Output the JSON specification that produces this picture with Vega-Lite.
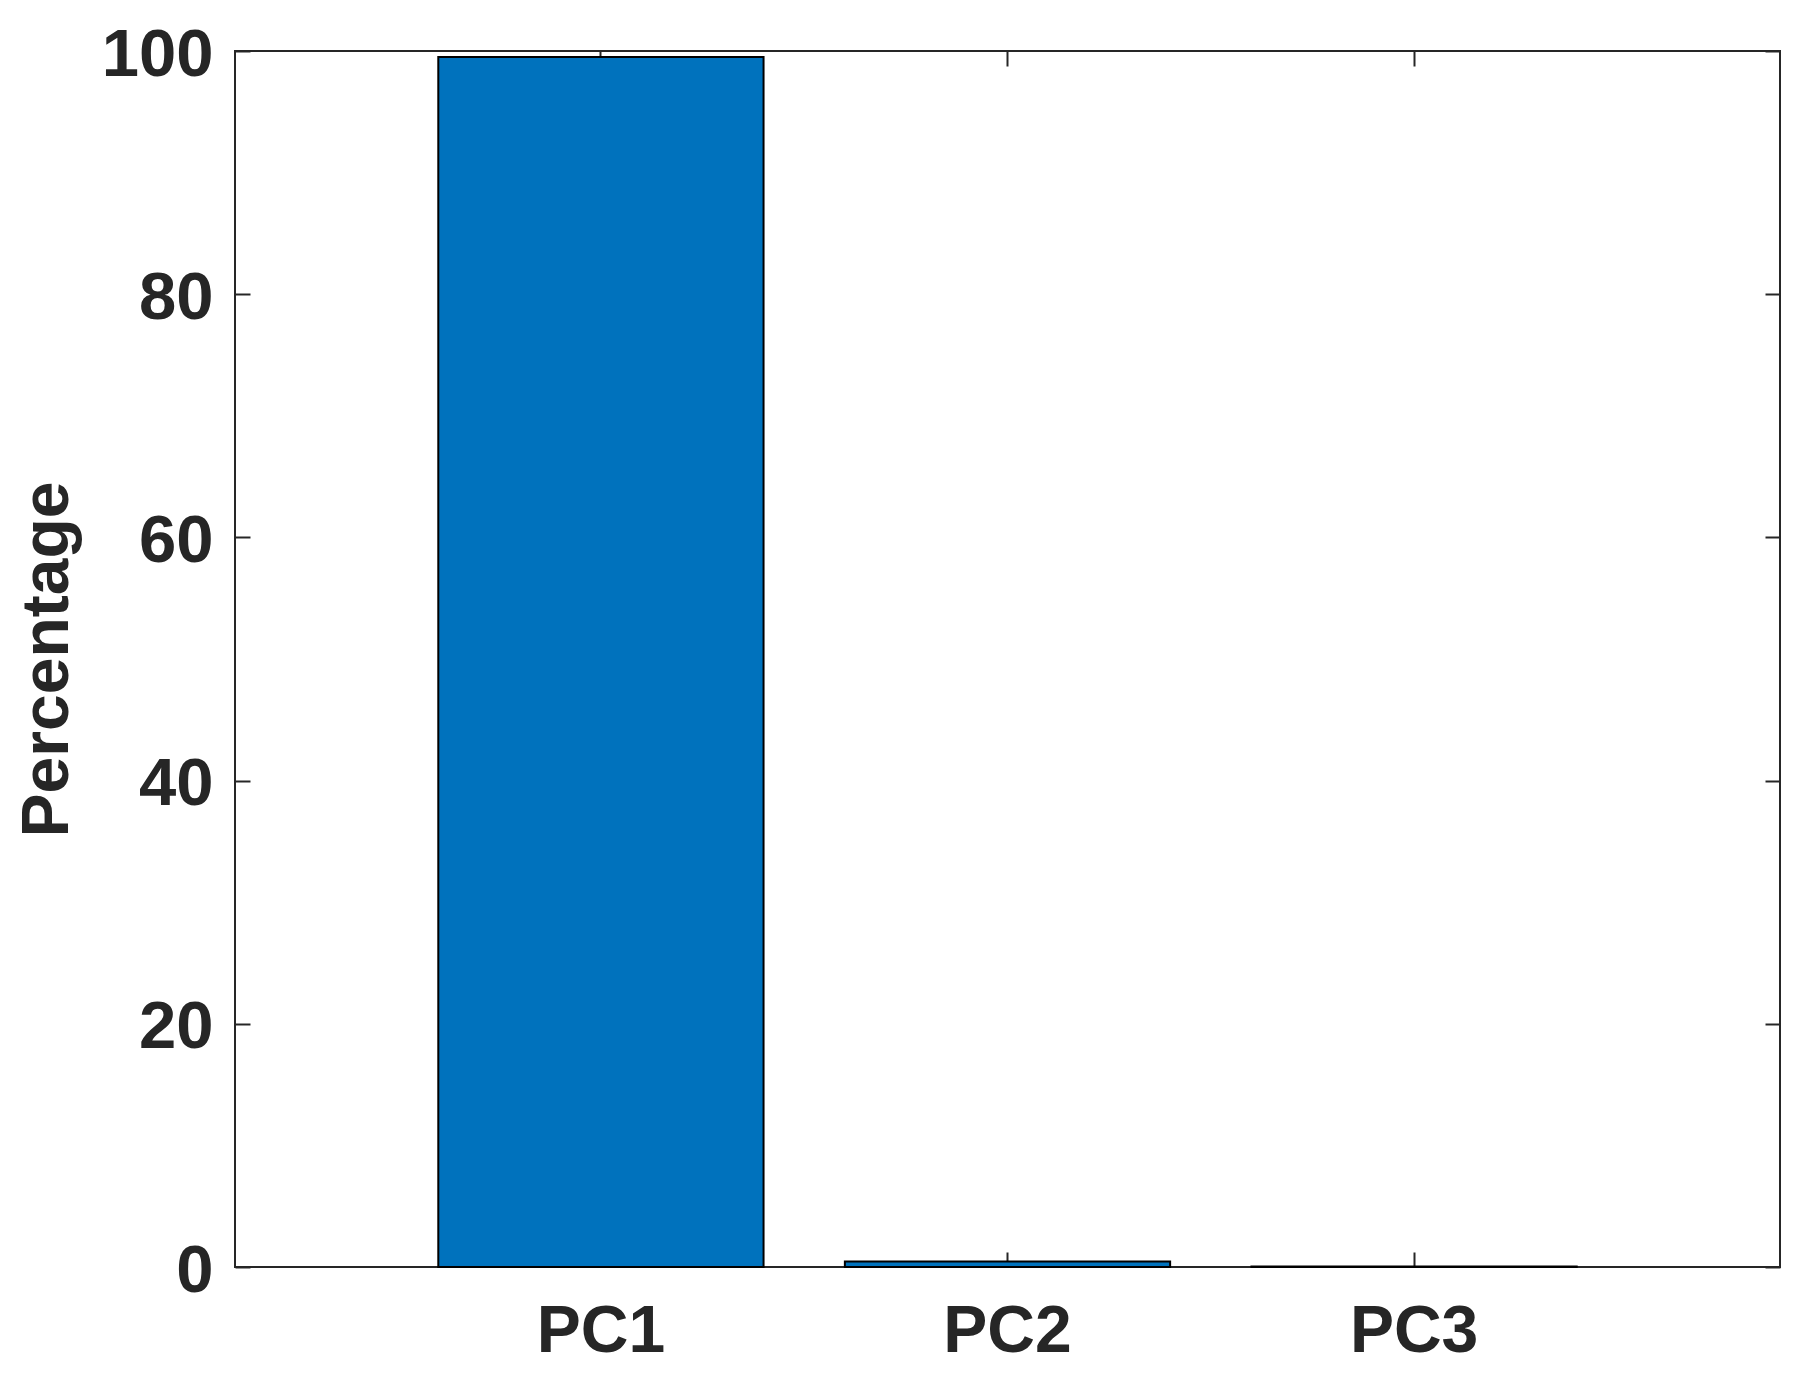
{
  "$schema": "https://vega.github.io/schema/vega-lite/v6.json",
  "autosize": "none",
  "width": 1545,
  "height": 1216,
  "padding": {"left": 235, "top": 51, "right": 34, "bottom": 124},
  "background": "white",
  "data": {"values": [
    {"pc": "PC1", "pct": 99.5},
    {"pc": "PC2", "pct": 0.45},
    {"pc": "PC3", "pct": 0.05}
  ]},
  "config": {
    "view": {"stroke": "#262626", "strokeWidth": 2},
    "font": "Liberation Sans",
    "axis": {
      "labelFont": "Liberation Sans",
      "labelFontWeight": "bold",
      "labelFontSize": 66,
      "labelColor": "#262626",
      "titleFont": "Liberation Sans",
      "titleFontWeight": "bold",
      "titleFontSize": 66,
      "titleColor": "#262626",
      "tickColor": "#262626",
      "tickWidth": 2,
      "tickSize": -15,
      "domain": false,
      "grid": false
    }
  },
  "resolve": {"axis": {"x": "independent", "y": "independent"}},
  "layer": [
    {
      "mark": {"type": "bar", "fill": "#0072BD", "stroke": "#000000", "strokeWidth": 2},
      "encoding": {
        "x": {
          "field": "pc", "type": "nominal", "sort": ["PC1", "PC2", "PC3"],
          "scale": {"paddingInner": 0.2, "paddingOuter": 0.5},
          "axis": {"orient": "bottom", "title": null, "labelAngle": 0, "labelPadding": 47, "labelBaseline": "top"}
        },
        "y": {
          "field": "pct", "type": "quantitative",
          "scale": {"domain": [0, 100], "nice": false},
          "axis": {"orient": "left", "title": "Percentage", "values": [0, 20, 40, 60, 80, 100], "labelFontSize": 67, "labelPadding": 37, "labelOffset": 4, "titlePadding": 20}
        }
      }
    },
    {
      "mark": {"type": "bar", "opacity": 0},
      "encoding": {
        "x": {
          "field": "pc", "type": "nominal", "sort": ["PC1", "PC2", "PC3"],
          "axis": {"orient": "top", "title": null, "labels": false}
        },
        "y": {
          "field": "pct", "type": "quantitative",
          "axis": {"orient": "right", "title": null, "labels": false, "values": [0, 20, 40, 60, 80, 100]}
        }
      }
    }
  ]
}
